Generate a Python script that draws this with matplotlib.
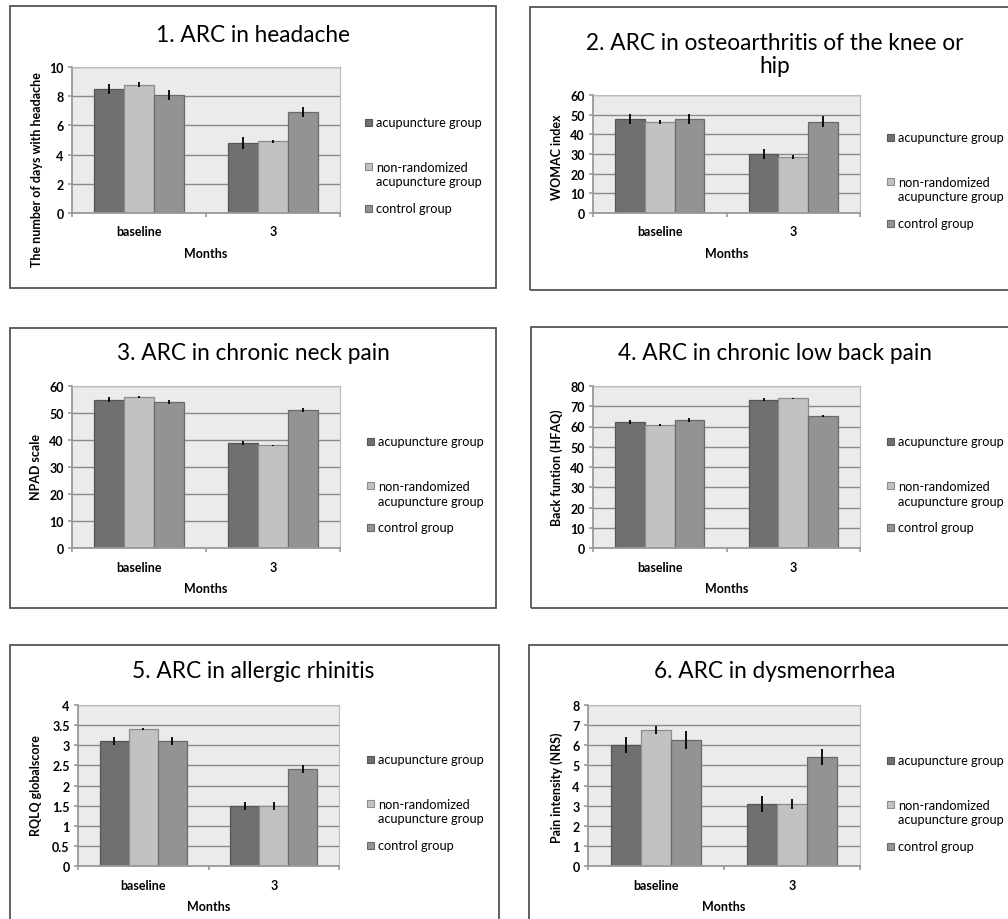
import matplotlib
matplotlib.use("Agg")
import matplotlib.pyplot as plt
from matplotlib.patches import Rectangle
import numpy as np

plt.rcParams['font.family'] = ['Lato', 'DejaVu Sans']

# datos
meses = ['baseline', '3']
grupos = ['acupuncture group', 'non-randomized\nacupuncture group', 'control group']
colores = ['#707070', '#c2c2c2', '#939393']
bordes = ['#555555', '#8c8c8c', '#6a6a6a']

titulos = ['1. ARC in headache',
           '2. ARC in osteoarthritis of the knee or\nhip',
           '3. ARC in chronic neck pain',
           '4. ARC in chronic low back pain',
           '5. ARC in allergic rhinitis',
           '6. ARC in dysmenorrhea']
ylabels = ['The number of days with headache', 'WOMAC index', 'NPAD scale',
           'Back funtion (HFAQ)', 'RQLQ globalscore', 'Pain intensity (NRS)']

# valores por grupo: [baseline, 3 meses]
headache_acu = [8.5, 4.8]
headache_nr = [8.8, 4.9]
headache_ctl = [8.1, 6.9]
headache_err = [[0.35, 0.4], [0.15, 0.1], [0.35, 0.35]]

oa_acu = [48, 30]
oa_nr = [46.5, 28.5]
oa_ctl = [48, 46.5]
oa_err = [[2.5, 2.6], [1.0, 0.8], [2.5, 2.6]]

neck_acu = [55, 39]
neck_nr = [56, 38]
neck_ctl = [54, 51]
neck_err = [[0.8, 0.7], [0.4, 0.3], [0.8, 0.8]]

back_acu = [62, 73.3]
back_nr = [60.7, 74]
back_ctl = [63.3, 65.3]
back_err = [[1.0, 0.8], [0.5, 0.3], [1.0, 0.6]]

rhin_acu = [3.1, 1.5]
rhin_nr = [3.4, 1.5]
rhin_ctl = [3.1, 2.4]
rhin_err = [[0.1, 0.1], [0.03, 0.1], [0.1, 0.1]]

dys_acu = [6.0, 3.1]
dys_nr = [6.75, 3.1]
dys_ctl = [6.25, 5.4]
dys_err = [[0.4, 0.4], [0.2, 0.25], [0.45, 0.4]]

valores = [[headache_acu, headache_nr, headache_ctl],
           [oa_acu, oa_nr, oa_ctl],
           [neck_acu, neck_nr, neck_ctl],
           [back_acu, back_nr, back_ctl],
           [rhin_acu, rhin_nr, rhin_ctl],
           [dys_acu, dys_nr, dys_ctl]]
errores = [headache_err, oa_err, neck_err, back_err, rhin_err, dys_err]
yticks = [np.arange(0, 11, 2), np.arange(0, 61, 10), np.arange(0, 61, 10),
          np.arange(0, 81, 10), np.arange(0, 4.01, 0.5), np.arange(0, 9, 1)]

W, H = 1008, 920
fig = plt.figure(figsize=(W / 100, H / 100), dpi=100)


def px_rect(x0, y0, x1, y1):
    return [x0 / W, 1 - y1 / H, (x1 - x0) / W, (y1 - y0) / H]


# marcos, ejes, titulo, ylabel, leyenda (en pixeles)
marcos = [(9.5, 7, 496, 289), (530, 8, 1012, 291), (10, 329, 496, 609),
          (531, 328, 1012, 609), (10, 646, 499, 925), (529, 646, 1012, 925)]
ejes = [(72, 68, 340, 214), (593, 96, 860, 214), (72, 387, 340, 549),
        (593, 387, 860, 549), (78, 706, 339, 867), (588, 706, 860, 867)]
pos_titulo = [(253, 35), (775, 55), (253, 354), (775, 354), (253, 672), (775, 672)]
pos_ylabel = [(37, 170), (557, 157), (36, 467), (557, 468), (36, 786), (557, 788)]
pos_leyenda = [(365, 123), (887, 138), (367, 442), (887, 442), (367, 760), (887, 761)]

ancho = 1 / 4.5
x = np.arange(len(meses))

for i in range(6):
    mx0, my0, mx1, my1 = marcos[i]
    fig.patches.append(Rectangle((mx0 / W, 1 - my1 / H), (mx1 - mx0) / W, (my1 - my0) / H,
                                 transform=fig.transFigure, fill=False,
                                 edgecolor='#555555', linewidth=1.3))

    ax = fig.add_axes(px_rect(*ejes[i]))
    ax.set_facecolor('#ebebeb')
    ax.set_axisbelow(True)
    for g in range(3):
        ax.bar(x + (g - 1) * ancho, valores[i][g], ancho, color=colores[g],
               edgecolor=bordes[g], linewidth=0.9, zorder=2)
        ax.errorbar(x + (g - 1) * ancho, valores[i][g], yerr=errores[i][g],
                    fmt='none', ecolor='black', elinewidth=1.3, capsize=0, zorder=3)

    ax.set_xlim(-0.5, 1.5)
    ax.set_ylim(yticks[i][0], yticks[i][-1])
    ax.set_yticks(yticks[i])
    ax.set_yticklabels([f'{v:g}' for v in yticks[i]], fontweight='bold', fontsize=9)
    ax.yaxis.grid(True, color='#8a8a8a', linewidth=1.0)
    ax.set_xticks(x)
    ax.set_xticklabels(meses, fontweight='bold', fontsize=9)
    ax.set_xticks([-0.5, 0.5, 1.5], minor=True)
    ax.tick_params(axis='x', which='major', length=0, pad=9)
    ax.tick_params(axis='x', which='minor', length=3, color='#999999', width=1.2)
    ax.tick_params(axis='y', length=3, color='#999999', width=1.2, pad=3)
    ax.set_xlabel('Months', fontweight='bold', fontsize=9, labelpad=7)
    for s in ['left', 'bottom']:
        ax.spines[s].set_color('#999999')
        ax.spines[s].set_linewidth(1.3)
    for s in ['top', 'right']:
        ax.spines[s].set_color('#bbbbbb')
        ax.spines[s].set_linewidth(0.8)

    tx, ty = pos_titulo[i]
    fig.text(tx / W, 1 - ty / H, titulos[i], ha='center', va='center',
             fontsize=16.3, linespacing=1.15)
    lx, ly = pos_ylabel[i]
    fig.text(lx / W, 1 - ly / H, ylabels[i], ha='center', va='center',
             rotation=90, fontweight='bold', fontsize=9)

    # leyenda a mano (cuadrito + texto)
    gx, gy = pos_leyenda[i]
    filas = [gy, gy + 44, gy + 86]
    for g in range(3):
        fy = filas[g]
        fig.patches.append(Rectangle((gx / W, 1 - (fy + 4) / H), 7 / W, 7 / H,
                                     transform=fig.transFigure, facecolor=colores[g],
                                     edgecolor=bordes[g], linewidth=0.8))
        fig.text((gx + 11) / W, 1 - (fy - 5) / H if g == 1 else 1 - fy / H,
                 grupos[g], ha='left', va='top' if g == 1 else 'center',
                 fontsize=9.2, linespacing=1.25)

plt.savefig("out.png", dpi=100)
